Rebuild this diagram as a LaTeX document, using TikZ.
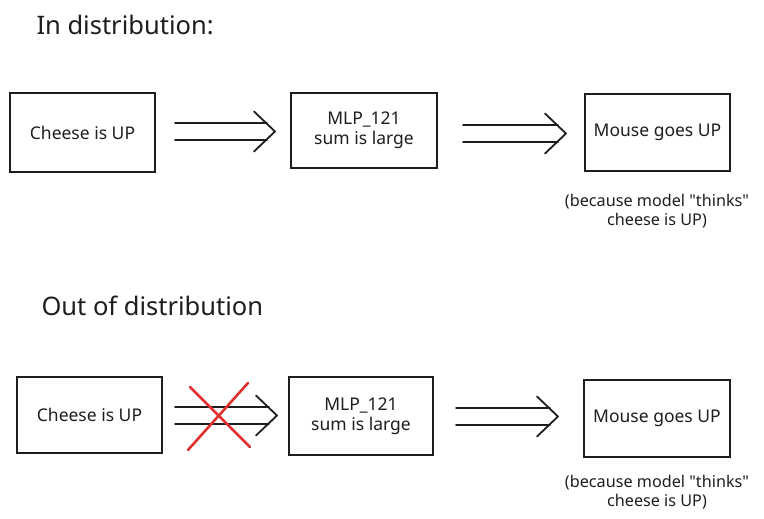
\documentclass[tikz,border=0pt]{standalone}
\usepackage{fontspec}
\setmainfont{Noto Sans}[Ligatures=TeXOff]
\usetikzlibrary{positioning}
\definecolor{ink}{HTML}{1E1E1E}
\definecolor{xred}{HTML}{E03131}
\tikzset{
  box/.style={draw=ink, line width=1.8pt, minimum width=145pt, minimum height=77pt, align=center, font=\fontsize{17.5}{20}\selectfont, text=ink},
  title/.style={font=\fontsize{25.5}{28}\selectfont, text=ink, anchor=west},
  caption/.style={font=\fontsize{16.2}{19}\selectfont, text=ink, align=center},
  arr/.style={draw=ink, line width=1.8pt, line cap=round, line join=round},
  cross/.style={draw=xred, line width=2.6pt, line cap=round}
}
\newcommand{\dblarrow}[2]{%
  \draw[arr] ([yshift=8.5pt]#1) -- ([yshift=8.5pt,xshift=-8pt]#2);
  \draw[arr] ([yshift=-8.5pt]#1) -- ([yshift=-8.5pt,xshift=-8pt]#2);
  \draw[arr] ([xshift=-21pt,yshift=20pt]#2) -- (#2) -- ([xshift=-21pt,yshift=-20pt]#2);
}
\begin{document}
\begin{tikzpicture}[x=1pt,y=-1pt]
\useasboundingbox (0,0) rectangle (764,519);
\fill[white] (0,0) rectangle (764,519);

% In distribution
\node[title] (t1) at (33,25) {In distribution:};
\node[box, minimum width=145pt, minimum height=79pt] (c1) at (82.5,132.5) {Cheese is UP};
\node[box, minimum width=146pt, minimum height=75pt] (m1) at (364,130.5) {MLP\_121\\sum is large};
\node[box, minimum width=145pt, minimum height=77pt] (u1) at (657.5,132.5) {Mouse goes UP};
\node[caption] (p1) at (657,211) {(because model "thinks"\\cheese is UP)};
\coordinate (a1s) at (175,131.5);
\coordinate (a1e) at (275,131.5);
\coordinate (a2s) at (463,133.5);
\coordinate (a2e) at (566,133.5);
\dblarrow{a1s}{a1e}
\dblarrow{a2s}{a2e}

% Out of distribution
\node[title] (t2) at (38,306) {Out of distribution};
\node[box, minimum width=145pt, minimum height=76pt] (c2) at (89.5,415) {Cheese is UP};
\node[box, minimum width=144pt, minimum height=78pt] (m2) at (361,416) {MLP\_121\\sum is large};
\node[box, minimum width=146pt, minimum height=77pt] (u2) at (657,418.5) {Mouse goes UP};
\node[caption] (p2) at (657,492) {(because model "thinks"\\cheese is UP)};
\coordinate (a3s) at (175,415.5);
\coordinate (a3e) at (277,415.5);
\coordinate (a4s) at (456,416.5);
\coordinate (a4e) at (558,416.5);
\dblarrow{a3s}{a3e}
\dblarrow{a4s}{a4e}
\coordinate (x1) at (190,387);
\coordinate (x2) at (250,447);
\coordinate (x3) at (248,383);
\coordinate (x4) at (188,450);
\draw[cross] (x1) -- (x2);
\draw[cross] (x3) -- (x4);
\end{tikzpicture}
\end{document}
